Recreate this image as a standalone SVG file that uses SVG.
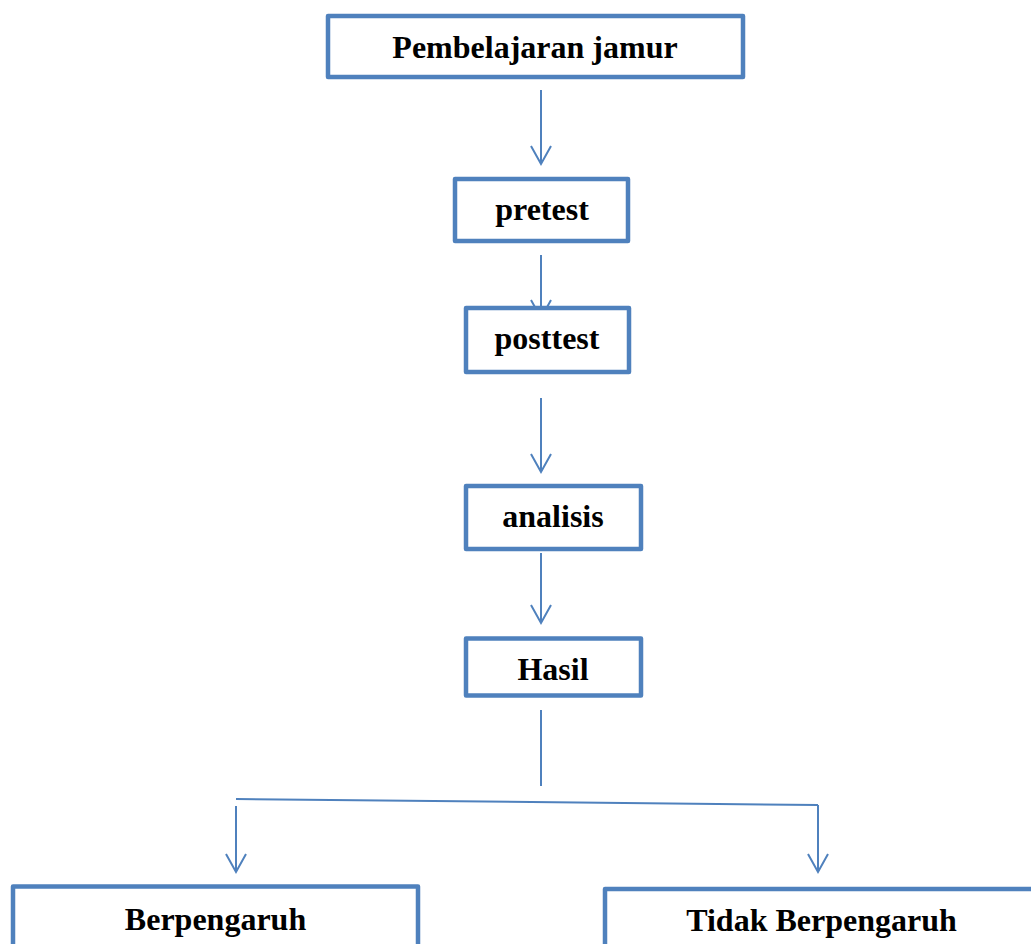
<svg xmlns="http://www.w3.org/2000/svg" width="1031" height="944" viewBox="0 0 1031 944">
<style>
.box{fill:#ffffff;stroke:#4F81BD;stroke-width:4.5;stroke-linejoin:round}
.lbl{font-family:"Liberation Serif","Times New Roman",serif;font-weight:bold;font-size:32px;fill:#000000;text-anchor:middle}
.ln{fill:none;stroke:#4F81BD;stroke-width:2}
</style>
<defs>
<marker id="arr" markerUnits="userSpaceOnUse" markerWidth="24" markerHeight="24" viewBox="-12 -22 24 24" refX="0" refY="0" orient="auto-start-reverse" overflow="visible">
<path d="M-18,-10 L0,0 L-18,10" fill="none" stroke="#4F81BD" stroke-width="2"/>
</marker>
</defs>
<rect width="1031" height="944" fill="#ffffff"/>
<g id="connectors">
<line class="ln" x1="541" y1="90" x2="541" y2="164" marker-end="url(#arr)"/>
<line class="ln" x1="541" y1="255" x2="541" y2="318" marker-end="url(#arr)"/>
<line class="ln" x1="541" y1="398" x2="541" y2="472" marker-end="url(#arr)"/>
<line class="ln" x1="541" y1="553" x2="541" y2="623" marker-end="url(#arr)"/>
<line class="ln" x1="541" y1="710" x2="541" y2="786"/>
<line class="ln" x1="236" y1="799" x2="818" y2="805"/>
<line class="ln" x1="236" y1="806" x2="236" y2="872" marker-end="url(#arr)"/>
<line class="ln" x1="818" y1="805" x2="818" y2="872" marker-end="url(#arr)"/>
</g>
<g id="n-pembelajaran">
<rect class="box" x="328" y="16" width="415" height="61"/>
<text class="lbl" x="535" y="58">Pembelajaran jamur</text>
</g>
<g id="n-pretest">
<rect class="box" x="455" y="179" width="173" height="62"/>
<text class="lbl" x="542" y="220">pretest</text>
</g>
<g id="n-posttest">
<rect class="box" x="466" y="308" width="163" height="64"/>
<text class="lbl" x="547" y="349">posttest</text>
</g>
<g id="n-analisis">
<rect class="box" x="466" y="486" width="175" height="63"/>
<text class="lbl" x="553" y="527">analisis</text>
</g>
<g id="n-hasil">
<rect class="box" x="466" y="638.5" width="175" height="57"/>
<text class="lbl" x="553" y="680">Hasil</text>
</g>
<g id="n-berpengaruh">
<rect class="box" x="13" y="886.5" width="405" height="80"/>
<text class="lbl" x="215.5" y="930">Berpengaruh</text>
</g>
<g id="n-tidak">
<rect class="box" x="605" y="889" width="460" height="80"/>
<text class="lbl" x="821.5" y="931">Tidak Berpengaruh</text>
</g>
</svg>
